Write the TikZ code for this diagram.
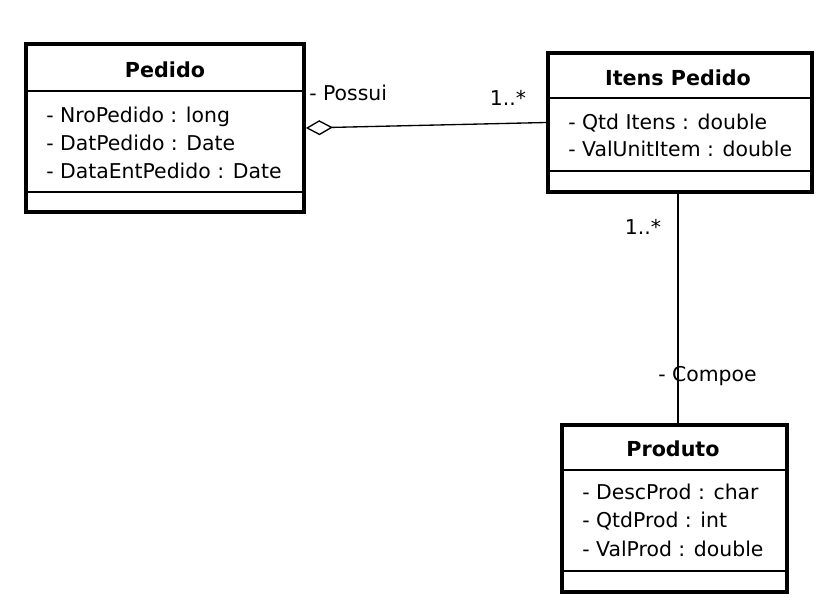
\documentclass[tikz,border=0pt]{standalone}
\usepackage{fontspec}
\setmainfont{DejaVu Sans}
\usetikzlibrary{arrows.meta}
\tikzset{
  classbox/.style={draw, line width=2.8pt, inner sep=0pt},
  classname/.style={font=\fontsize{15.5}{18}\selectfont\bfseries, inner sep=0pt},
  attr/.style={font=\fontsize{15.3}{18}\selectfont, anchor=base west, inner sep=0pt},
  rolelabel/.style={font=\fontsize{15.3}{18}\selectfont, inner sep=0pt},
  assoc/.style={line width=1pt}
}
\begin{document}
\begin{tikzpicture}[x=0.75pt,y=-0.75pt]
    \useasboundingbox (0,0) rectangle (837,611);
    % classes
    \node [classbox, minimum width=278*0.75pt, minimum height=168*0.75pt] (pedido) at (165,128) {};
    \node [classbox, minimum width=264*0.75pt, minimum height=139*0.75pt] (itens) at (680,122.5) {};
    \node [classbox, minimum width=225*0.75pt, minimum height=167*0.75pt] (produto) at (674.5,508.5) {};
    % compartments
    \draw [line width=0.9pt] (26,91) -- (304,91);
    \draw [line width=0.9pt] (26,192) -- (304,192);
    \draw [line width=0.9pt] (548,98) -- (812,98);
    \draw [line width=0.9pt] (548,171) -- (812,171);
    \draw [line width=0.9pt] (562,470) -- (787,470);
    \draw [line width=0.9pt] (562,571) -- (787,571);
    % names
    \node [classname] (pedidoname) at (165,70) {Pedido};
    \node [classname] (itensname) at (678,78) {Itens Pedido};
    \node [classname] (produtoname) at (673,449) {Produto};
    % attributes
    \foreach \i/\texti in {0/- NroPedido : long,1/- DatPedido : Date,2/- DataEntPedido : Date} {
    \node [attr] at (46,122+28*\i) {\texti};
    }
    \foreach \j/\textj in {0/- Qtd Itens : double,1/- ValUnitItem : double} {
    \node [attr] at (568,129+27*\j) {\textj};
    }
    \foreach \k/\textk in {0/- DescProd : char,1/- QtdProd : int,2/- ValProd : double} {
    \node [attr] at (582,499+28.5*\k) {\textk};
    }
    % associations
    \draw [assoc, {Diamond[open, length=27*0.75pt, width=15*0.75pt, line width=1pt]}-] (pedido.east) -- (itens.west);
    \draw [assoc] (itens.south -| 678,0) -- (produto.north -| 678,0);
    \node [rolelabel, anchor=west] (possui) at (309,93) {- Possui};
    \node [rolelabel] (multitens) at (508,98) {1..*};
    \node [rolelabel] (multprod) at (643,227) {1..*};
    \node [rolelabel, anchor=west] (compoe) at (658,376) {- Compoe};
\end{tikzpicture}
\end{document}
